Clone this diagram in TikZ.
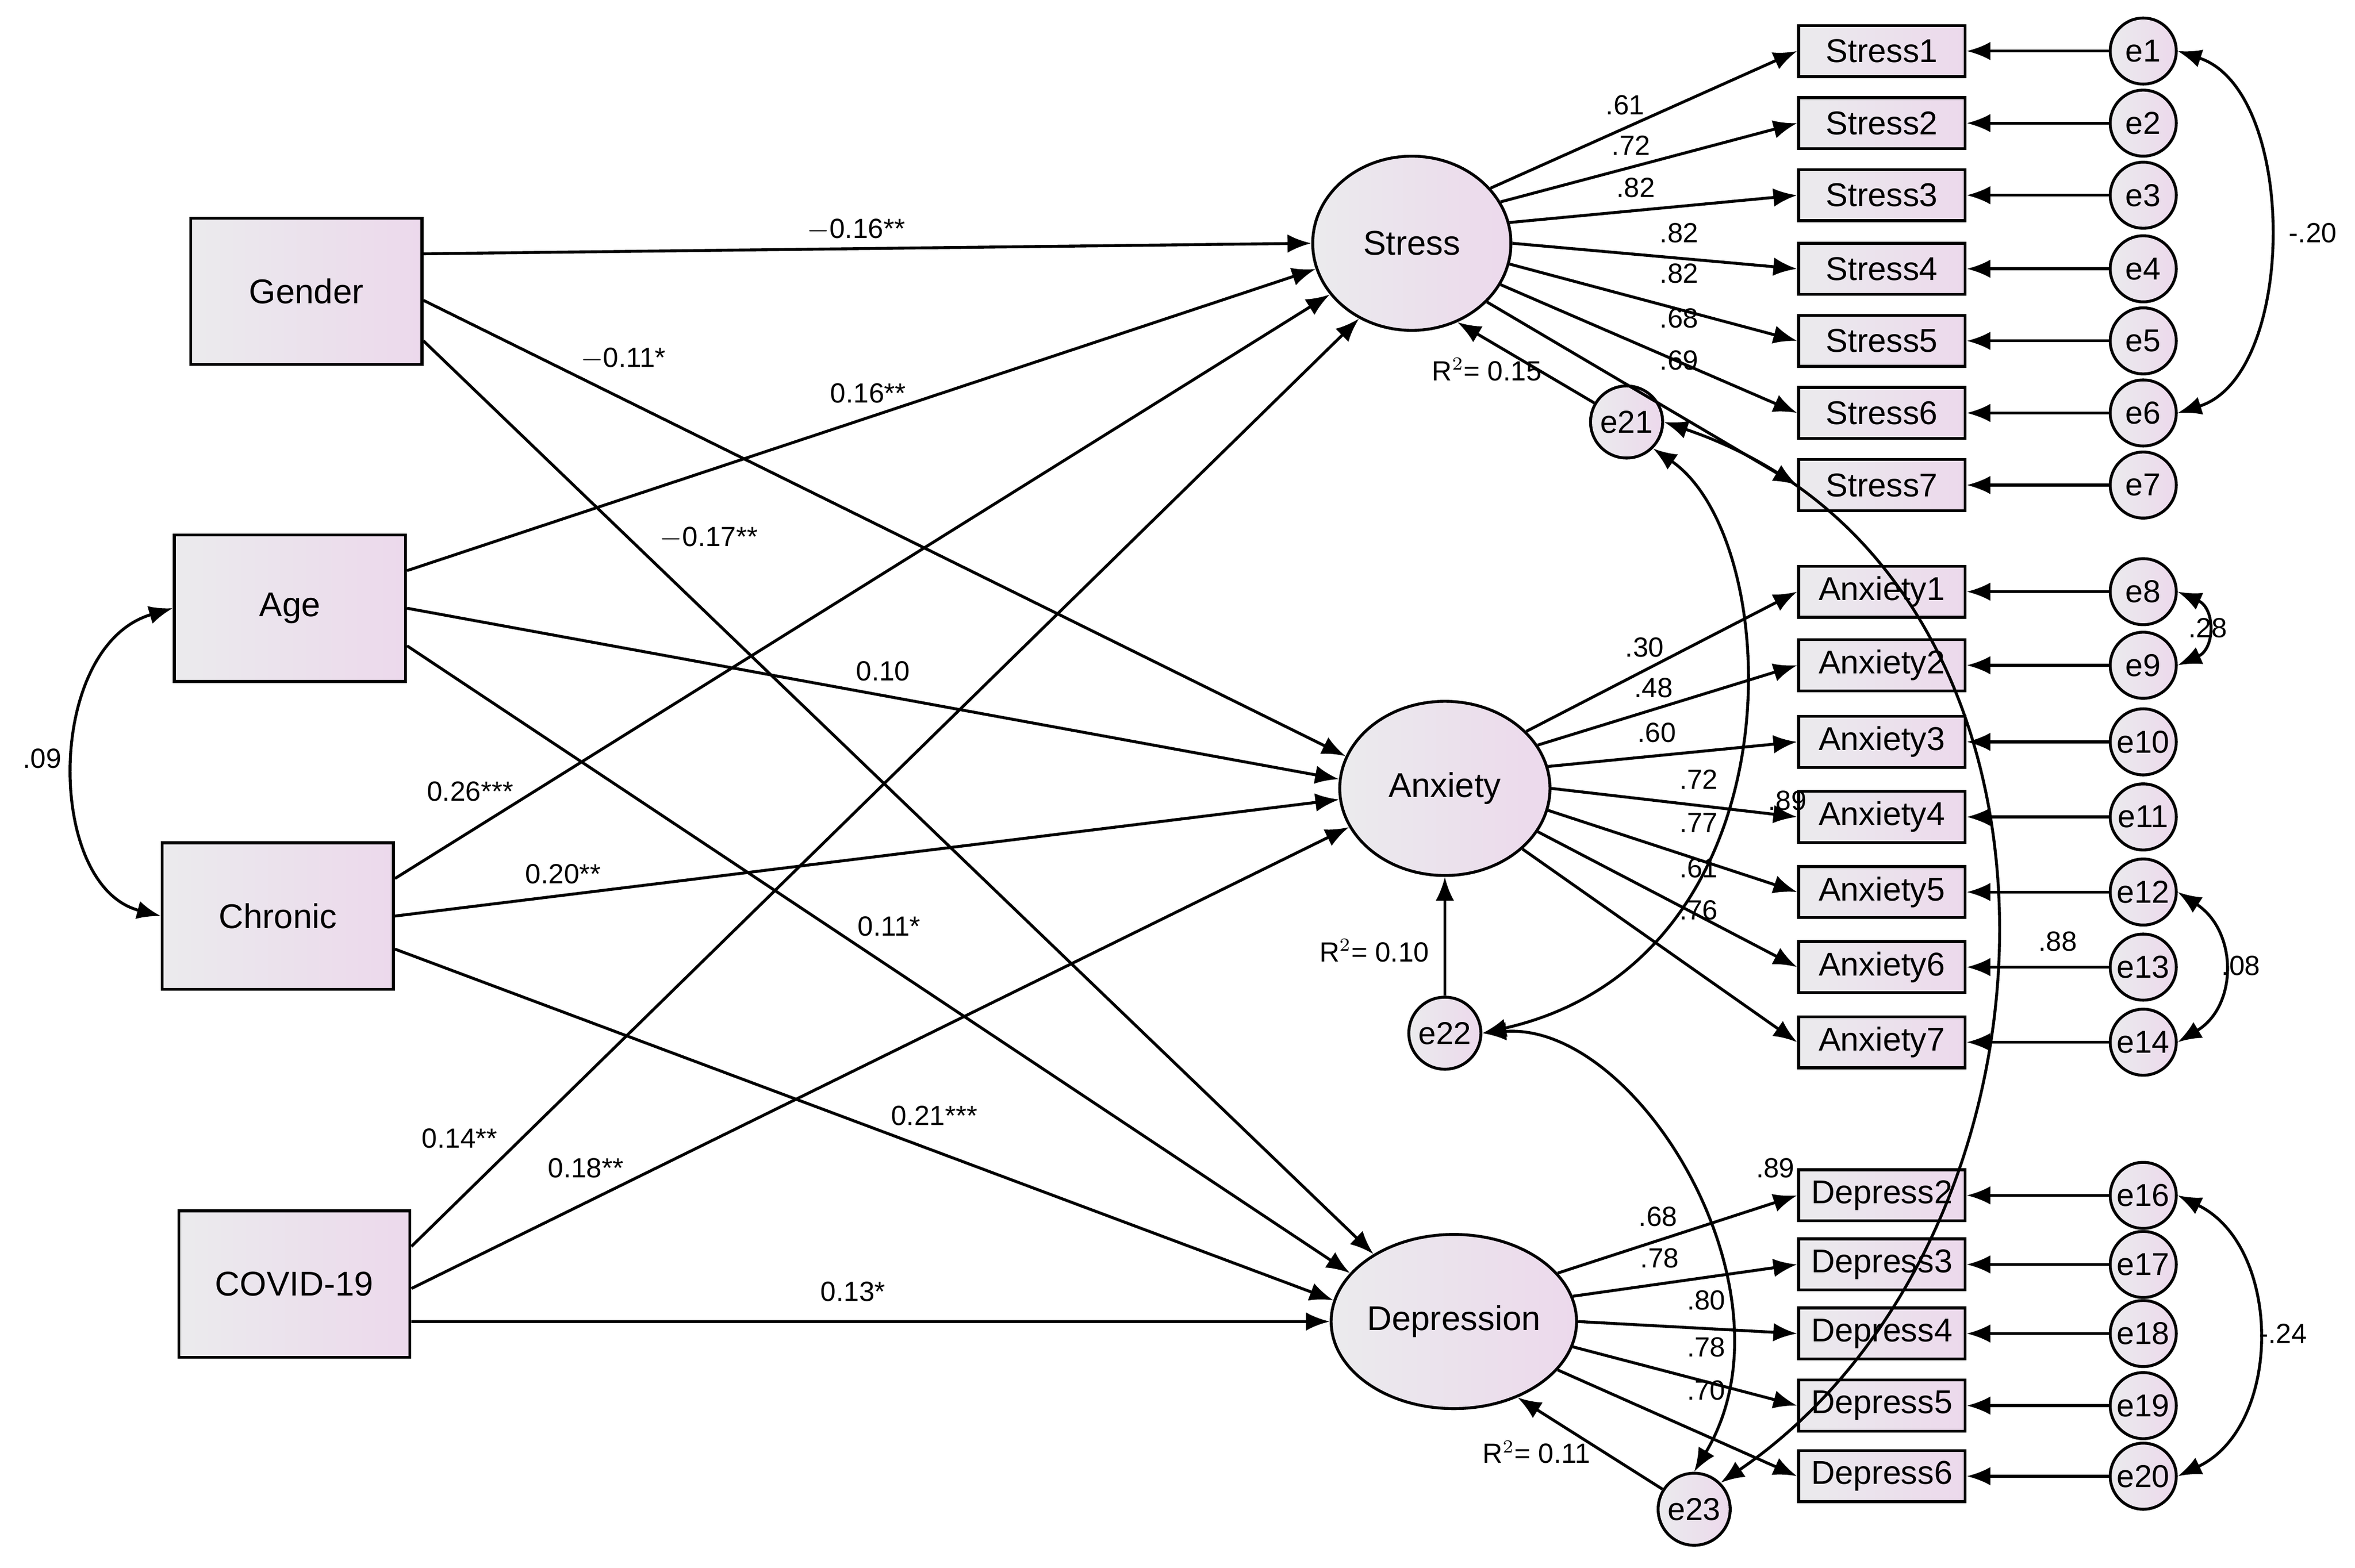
\documentclass[tikz,border=0pt]{standalone}
\usepackage{fontspec}
\setmainfont{Liberation Sans}
\usetikzlibrary{arrows.meta,shapes.geometric,calc}
\begin{document}
\begin{tikzpicture}[x=0.02cm,y=-0.02cm,
  sh/.style={left color=blue!6!gray!15,right color=violet!15,draw=black,line width=1.1pt},
  box/.style={sh,rectangle,minimum width=3.08cm,minimum height=1.95cm,font=\fontsize{13}{13}\selectfont},
  ind/.style={sh,rectangle,minimum width=2.22cm,minimum height=0.68cm,inner sep=0pt,font=\fontsize{12.5}{12.5}\selectfont},
  lat/.style={sh,ellipse,font=\fontsize{13}{13}\selectfont,inner sep=0pt},
  err/.style={sh,circle,minimum size=0.88cm,inner sep=0pt,font=\fontsize{12}{12}\selectfont},
  ar/.style={-{Latex[length=9pt,width=7pt]},line width=1.1pt},
  dar/.style={{Latex[length=9pt,width=7pt]}-{Latex[length=9pt,width=7pt]},line width=1.1pt},
  lb/.style={font=\fontsize{10.5}{10.5}\selectfont,inner sep=1pt}]
\useasboundingbox (0,0) rectangle (1568,1044);
\node[box] (gender) at (204,194) {Gender};
\node[box] (age) at (193,405) {Age};
\node[box] (chronic) at (185,610) {Chronic};
\node[box] (covid) at (196,855) {COVID-19};
\node[lat,minimum width=2.64cm,minimum height=2.32cm] (stress) at (940,162) {Stress};
\node[lat,minimum width=2.8cm,minimum height=2.32cm] (anx) at (962,525) {Anxiety};
\node[lat,minimum width=2.92cm,minimum height=2.32cm] (dep) at (968,880) {Depression};
\foreach \i/\y in {1/34,2/82,3/130,4/179,5/227,6/275,7/323}{
  \node[ind] (s\i) at (1253,\y) {Stress\i};
  \node[err] (e\i) at (1427,\y) {e\i};
  \draw[ar] (e\i) -- (s\i);}
\foreach \i/\y/\e in {1/394/8,2/443/9,3/494/10,4/544/11,5/594/12,6/644/13,7/694/14}{
  \node[ind] (a\i) at (1253,\y) {Anxiety\i};
  \node[err] (e\e) at (1427,\y) {e\e};
  \draw[ar] (e\e) -- (a\i);}
\foreach \i/\y/\e in {2/796/16,3/842/17,4/888/18,5/936/19,6/983/20}{
  \node[ind] (d\i) at (1253,\y) {Depress\i};
  \node[err] (e\e) at (1427,\y) {e\e};
  \draw[ar] (e\e) -- (d\i);}
\node[err,minimum size=0.96cm] (e21) at (1083,281) {e21};
\node[err,minimum size=0.96cm] (e22) at (962,688) {e22};
\node[err,minimum size=0.96cm] (e23) at (1128,1005) {e23};
% loadings
\foreach \i/\a in {1/35,2/25,3/12,4/0,5/-12,6/-25,7/-38}{\draw[ar] (stress.\a) -- (s\i.west);}
\foreach \i/\a in {1/35,2/25,3/12,4/0,5/-12,6/-25,7/-38}{\draw[ar] (anx.\a) -- (a\i.west);}
\foreach \i/\a in {2/25,3/12,4/0,5/-12,6/-25}{\draw[ar] (dep.\a) -- (d\i.west);}
% structural
\draw[ar] ([yshift=0.5cm]gender.east) -- (stress.180);
\draw[ar] ([yshift=-0.12cm]gender.east) -- (anx.162);
\draw[ar] ([yshift=-0.66cm]gender.east) -- (dep.140);
\draw[ar] ([yshift=0.5cm]age.east) -- (stress.195);
\draw[ar] (age.east) -- (anx.175);
\draw[ar] ([yshift=-0.5cm]age.east) -- (dep.155);
\draw[ar] ([yshift=0.5cm]chronic.east) -- (stress.212);
\draw[ar] (chronic.east) -- (anx.186);
\draw[ar] ([yshift=-0.44cm]chronic.east) -- (dep.170);
\draw[ar] ([yshift=0.5cm]covid.east) -- (stress.235);
\draw[ar] ([yshift=-0.06cm]covid.east) -- (anx.202);
\draw[ar] ([yshift=-0.5cm]covid.east) -- (dep.180);
\draw[ar] (e21) -- (stress.-60);
\draw[ar] (e22) -- (anx.south);
\draw[ar] (e23) -- (dep.-50);
% covariances
\draw[dar] (age.west) .. controls (30,430) and (30,590) .. (chronic.west);
\draw[dar] (e1.east) .. controls (1530,60) and (1530,250) .. (e6.east);
\draw[dar] (e8.east) .. controls (1475,405) and (1475,432) .. (e9.east);
\draw[dar] (e12.east) .. controls (1490,620) and (1490,670) .. (e14.east);
\draw[dar] (e16.east) .. controls (1520,830) and (1520,950) .. (e20.east);
\draw[dar] (e21.south east) .. controls (1190,360) and (1200,640) .. (e22.east);
\draw[dar] (e21.east) .. controls (1400,380) and (1390,820) .. (e23.north east);
\draw[dar] (e22.east) .. controls (1090,680) and (1200,860) .. (e23.north);
% labels
\foreach \t/\x/\y in {.61/1082/70,.72/1086/97,.82/1089/125,.82/1118/155,.82/1118/182,.68/1118/212,.69/1118/240,
 .30/1095/431,.48/1101/458,.60/1103/488,.72/1131/519,.77/1131/548,.61/1131/578,.76/1131/606,.89/1190/533,
 .68/1104/810,.78/1105/838,.80/1136/866,.78/1136/897,.70/1136/926,.89/1182/778,.88/1370/627,
 -.20/1540/155,.28/1470/418,.08/1492/643,-.24/1520/888,.09/28/505}{\node[lb] at (\x,\y) {\t};}
\foreach \t/\x/\y in {{$-$0.16**}/570/153,{$-$0.11*}/415/239,0.16**/578/262,{$-$0.17**}/472/358,0.10/588/447,
 0.26***/313/527,0.20**/375/582,0.11*/592/617,0.21***/622/743,0.14**/306/758,0.18**/390/778,0.13*/568/860}
 {\node[lb] at (\x,\y) {\t};}
\node[lb] at (990,246) {R$^2$= 0.15};
\node[lb] at (915,633) {R$^2$= 0.10};
\node[lb] at (1023,967) {R$^2$= 0.11};
\end{tikzpicture}
\end{document}
